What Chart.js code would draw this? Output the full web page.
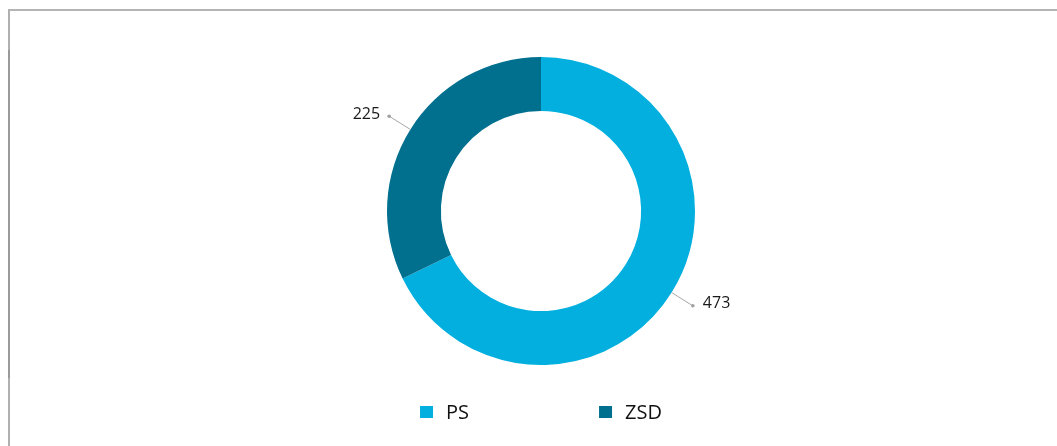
<!DOCTYPE html>
<html>
<head>
<meta charset="utf-8">
<title>PS / ZSD</title>
<script src="https://cdn.jsdelivr.net/npm/chart.js@4.4.1/dist/chart.umd.min.js"></script>
<style>
    html, body { margin: 0; padding: 0; background: #fff; overflow: hidden; }
    #wrap { position: relative; width: 1057px; height: 446px; }
    #frame {
        position: absolute; left: 8px; top: 9px; width: 1060px; height: 450px;
        border-top: 2px solid #b4b4b4; border-left: 2px solid #b0b0b0;
    }
    #frameDark { position: absolute; left: 8px; top: 50px; width: 2px; height: 328px; background: #9a9a9a; }
    #chartBox { position: absolute; left: 0; top: 0; width: 1057px; height: 446px; }
</style>
</head>
<body>
<div id="wrap">
    <div id="frame"></div>
    <div id="frameDark"></div>
    <div id="chartBox"><canvas id="donutChart"></canvas></div>
</div>
<script>
// Chart data
const categories = ['PS', 'ZSD'];
const counts = [473, 225];
const sliceColors = ['#02afdf', '#01708f'];

const FONT = '"Open Sans", "Noto Sans", sans-serif';

// Value labels with a short leader line and a dot at the end
const valueLabels = {
    id: 'valueLabels',
    afterDatasetsDraw(chart) {
        const ctx = chart.ctx;
        const meta = chart.getDatasetMeta(0);
        ctx.save();
        meta.data.forEach((arc, i) => {
            const p = arc.getProps(['x', 'y', 'startAngle', 'endAngle', 'outerRadius'], true);
            const mid = (p.startAngle + p.endAngle) / 2;
            const cos = Math.cos(mid);
            const sin = Math.sin(mid);
            const x0 = p.x + cos * p.outerRadius;
            const y0 = p.y + sin * p.outerRadius;
            const x1 = p.x + cos * (p.outerRadius + 25);
            const y1 = p.y + sin * (p.outerRadius + 25);

            ctx.strokeStyle = '#a6a6a6';
            ctx.lineWidth = 1;
            ctx.beginPath();
            ctx.moveTo(x0, y0);
            ctx.lineTo(x1, y1);
            ctx.stroke();

            ctx.fillStyle = '#a0a0a0';
            ctx.beginPath();
            ctx.arc(x1, y1, 1.8, 0, Math.PI * 2);
            ctx.fill();

            const right = cos >= 0;
            ctx.fillStyle = '#1a1a1a';
            ctx.font = '16px ' + FONT;
            ctx.textBaseline = 'middle';
            ctx.textAlign = right ? 'left' : 'right';
            ctx.fillText(String(counts[i]), x1 + (right ? 10 : -9), y1 - 2);
        });
        ctx.restore();
    }
};

// Legend row under the ring
const bottomLegend = {
    id: 'bottomLegend',
    afterDraw(chart) {
        const ctx = chart.ctx;
        const area = chart.chartArea;
        const cx = (area.left + area.right) / 2;
        const cy = 412;
        const box = 13;
        const gap = 13;
        const spacing = 130;
        ctx.save();
        ctx.font = '20px ' + FONT;
        const widths = categories.map(c => box + gap + ctx.measureText(c).width);
        const total = widths.reduce((a, b) => a + b, 0) + spacing * (categories.length - 1);
        let x = cx - total / 2;
        categories.forEach((c, i) => {
            ctx.fillStyle = sliceColors[i];
            ctx.fillRect(x, cy - 6, box, 12);
            ctx.fillStyle = '#111';
            ctx.textBaseline = 'middle';
            ctx.textAlign = 'left';
            ctx.fillText(c, x + box + gap, cy + 1);
            x += widths[i] + spacing;
        });
        ctx.restore();
    }
};

document.addEventListener('DOMContentLoaded', function() {
    const ctx = document.getElementById('donutChart').getContext('2d');
    new Chart(ctx, {
        type: 'doughnut',
        data: {
            labels: categories,
            datasets: [{
                data: counts,
                backgroundColor: sliceColors,
                borderWidth: 0,
                offset: 0,
                hoverOffset: 0
            }]
        },
        options: {
            responsive: true,
            maintainAspectRatio: false,
            animation: false,
            cutout: '65%',
            layout: {
                padding: { top: 57, bottom: 81, left: 25, right: 0 }
            },
            plugins: {
                legend: { display: false },
                tooltip: { enabled: false }
            }
        },
        plugins: [valueLabels, bottomLegend]
    });
});
</script>
</body>
</html>
